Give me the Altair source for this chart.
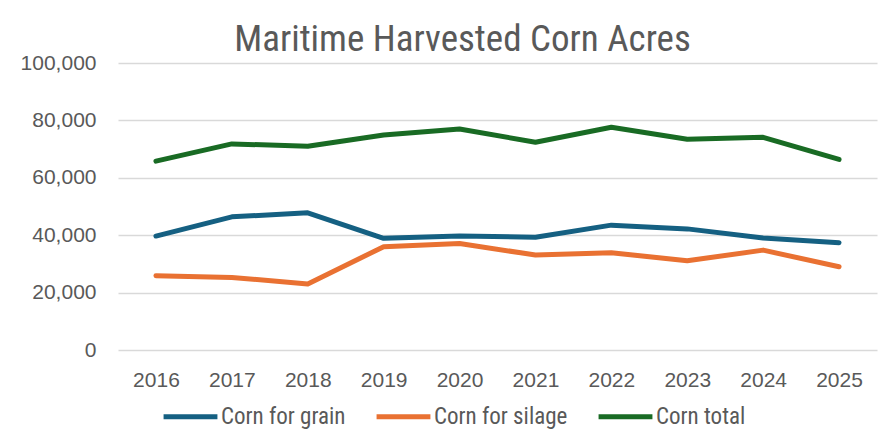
import altair as alt
import pandas as pd

years = ["2016", "2017", "2018", "2019", "2020", "2021", "2022", "2023", "2024", "2025"]
grain = [39700, 46400, 47800, 38900, 39700, 39300, 43500, 42200, 39000, 37400]
silage = [25900, 25300, 23000, 36000, 37100, 33100, 33900, 31100, 34800, 29000]
total = [65800, 71800, 71000, 74900, 77000, 72400, 77600, 73400, 74100, 66400]
series = ["Corn for grain", "Corn for silage", "Corn total"]
colors = ["#156082", "#E97132", "#196B24"]
y_ticks = [0, 20000, 40000, 60000, 80000, 100000]

df = pd.DataFrame({"Year": years, series[0]: grain, series[1]: silage, series[2]: total})
long = df.melt(id_vars="Year", var_name="Series", value_name="Acres")

NARROW = "Liberation Sans Narrow, Roboto Condensed, Arial Narrow, Roboto, sans-serif"
AXISFONT = "Liberation Sans, Arial, sans-serif"
TXT = "#595959"

chart = (
    alt.Chart(long)
    .mark_line(strokeWidth=5, strokeCap="round", strokeJoin="round")
    .encode(
        x=alt.X("Year:O", sort=years, title=None,
                axis=alt.Axis(labelAngle=0, domain=False, ticks=False, grid=False,
                              labelFontSize=21, labelColor=TXT, labelFont=AXISFONT,
                              labelPadding=19)),
        y=alt.Y("Acres:Q", title=None,
                scale=alt.Scale(domain=[0, 100000], nice=False),
                axis=alt.Axis(values=y_ticks, format=",.0f", domain=False, ticks=False,
                              grid=True, gridColor="#D9D9D9", gridWidth=1.5,
                              labelFontSize=21, labelColor=TXT, labelFont=AXISFONT,
                              labelPadding=22)),
        color=alt.Color("Series:N", sort=series,
                        scale=alt.Scale(domain=series, range=colors),
                        legend=alt.Legend(title=None, orient="none", direction="horizontal",
                                          legendX=43, legendY=324,
                                          symbolType="stroke", symbolSize=2900,
                                          symbolStrokeWidth=5, labelFontSize=23,
                                          labelColor=TXT, labelFont=NARROW, labelOffset=1,
                                          columnPadding=20)),
    )
    .properties(
        width=759,
        height=287,
        title=alt.TitleParams("Maritime Harvested Corn Acres", fontSize=37, font=NARROW,
                              color=TXT, fontWeight="normal", anchor="middle",
                              dx=-35, offset=-7),
        autosize=alt.AutoSizeParams(type="none"),
        padding={"left": 110, "top": 55, "right": 8, "bottom": 79},
    )
    .configure(background="white", view=alt.ViewConfig(stroke=None))
)

chart.save("out.html", embed_options={"renderer": "svg", "actions": False})
